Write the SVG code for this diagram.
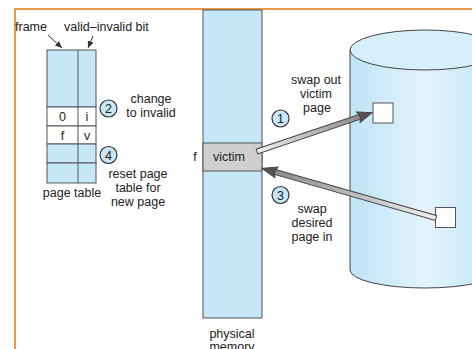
<svg xmlns="http://www.w3.org/2000/svg" width="472" height="349" viewBox="0 0 472 349">
<style>
text{font-family:"Liberation Sans",Arial,sans-serif;font-size:12.5px;fill:#222}
.c{text-anchor:middle}
.blue{fill:#c6e7f8;stroke:#555;stroke-width:1}
.white{fill:#fff;stroke:#555;stroke-width:1}
.circ{fill:#c6e7f8;stroke:#333;stroke-width:1.2}
.ln{stroke:#333;stroke-width:1;fill:none}
</style>
<defs>
<linearGradient id="cyl" x1="0" y1="0" x2="1" y2="0">
<stop offset="0" stop-color="#bde3f6"/>
<stop offset="0.5" stop-color="#e4f4fc"/>
<stop offset="1" stop-color="#bde3f6"/>
</linearGradient>
<linearGradient id="shaft" x1="0" y1="0" x2="1" y2="0">
<stop offset="0" stop-color="#f0f0f0"/>
<stop offset="1" stop-color="#8a8a8a"/>
</linearGradient>
<marker id="ah" markerWidth="8" markerHeight="8" refX="7" refY="4" orient="auto" markerUnits="userSpaceOnUse">
<path d="M0,1 L7,4 L0,7 Z" fill="#333"/>
</marker>
</defs>
<g id="border">
<line x1="14" y1="9" x2="472" y2="9" stroke="#e69a45" stroke-width="2"/>
<line x1="15" y1="9" x2="15" y2="349" stroke="#e69a45" stroke-width="2"/>
</g>
<g id="page-table">
<rect x="47" y="50" width="49" height="57" class="blue"/>
<rect x="47" y="107" width="49" height="19" class="white"/>
<rect x="47" y="126" width="49" height="18" class="white"/>
<rect x="47" y="144" width="49" height="19" class="blue"/>
<rect x="47" y="163" width="49" height="20" class="blue"/>
<line x1="78" y1="50" x2="78" y2="183" stroke="#555"/>
<text x="62.5" y="121" class="c">0</text>
<text x="87" y="121" class="c">i</text>
<text x="62.5" y="140" class="c">f</text>
<text x="87" y="140" class="c">v</text>
<text x="72" y="197" class="c">page table</text>
</g>
<g id="labels-top">
<text x="15" y="31">frame</text>
<text x="64" y="31">valid–invalid bit</text>
</g>
<g id="step2">
<circle cx="108.5" cy="108.5" r="8.5" class="circ"/>
<text x="108.5" y="113" class="c">2</text>
<text x="151" y="103" class="c">change</text>
<text x="151" y="117" class="c">to invalid</text>
</g>
<g id="step4">
<circle cx="108.5" cy="155" r="8.5" class="circ"/>
<text x="108.5" y="159.5" class="c">4</text>
<text x="138" y="178" class="c">reset page</text>
<text x="138" y="192" class="c">table for</text>
<text x="138" y="206" class="c">new page</text>
</g>
<g id="physical-memory">
<rect x="203" y="10" width="59" height="308" class="blue"/>
<rect x="203" y="143" width="59" height="28" fill="#cfcfcf" stroke="#555"/>
<text x="229" y="161" class="c">victim</text>
<text x="195" y="161" class="c">f</text>
<text x="232" y="338" class="c">physical</text>
<text x="232" y="351" class="c">memory</text>
</g>
<g id="disk">
<path d="M350,50 L350,270 A75,18 0 0 0 500,270 L500,50 Z" fill="url(#cyl)" stroke="#444"/>
<ellipse cx="425" cy="50" rx="75" ry="20" fill="#d6effa" stroke="#444"/>
<rect x="373" y="103" width="20" height="20" class="white"/>
<rect x="435.5" y="207.5" width="20" height="20" class="white"/>
</g>
<g id="step1">
<circle cx="280.5" cy="118.5" r="8.5" class="circ"/>
<text x="280.5" y="123" class="c">1</text>
<text x="316" y="84" class="c">swap out</text>
<text x="316" y="98" class="c">victim</text>
<text x="317" y="112" class="c">page</text>
</g>
<g id="step3">
<circle cx="280.5" cy="195" r="8.5" class="circ"/>
<text x="280.5" y="199.5" class="c">3</text>
<text x="312" y="213" class="c">swap</text>
<text x="312" y="227" class="c">desired</text>
<text x="312" y="241" class="c">page in</text>
</g>
<g id="connectors">
<line x1="48" y1="35" x2="62" y2="48" class="ln" marker-end="url(#ah)"/>
<line x1="93" y1="36" x2="88" y2="48" class="ln" marker-end="url(#ah)"/>
<g transform="translate(257,151.5) rotate(-18.64)">
<rect x="0" y="-2.5" width="109" height="5" fill="url(#shaft)" stroke="#444" stroke-width="1"/>
<path d="M107,-5.5 L121.4,0 L107,5.5 L109,0 Z" fill="#555" stroke="#444" stroke-width="1"/>
</g>
<g transform="translate(436,218) rotate(195.94)">
<rect x="0" y="-2.5" width="168" height="5" fill="url(#shaft)" stroke="#444" stroke-width="1"/>
<path d="M166,-5.5 L181,0 L166,5.5 L168,0 Z" fill="#555" stroke="#444" stroke-width="1"/>
</g>
</g>
</svg>
